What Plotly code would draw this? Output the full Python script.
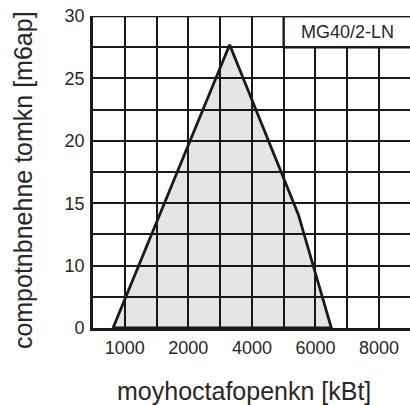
import plotly.graph_objects as go

# Working-range outline (burner output vs. combustion-chamber resistance)
power_kw = [-370, 3300, 5460, 6500]
pressure_mbar = [5, 27.7, 14.1, 5]

x_tick_vals = [0, 2000, 4000, 6000, 8000]
x_tick_text = ["1000", "2000", "4000", "6000", "8000"]
y_tick_vals = [5, 10, 15, 20, 25, 30]
y_tick_text = ["0", "10", "15", "20", "25", "30"]

model_label = "MG40/2-LN"
x_title = "moyhoctafopenkn [kBt]"
y_title = "compotnbnehne tomkn [m6ap]"

FONT = "Liberation Sans, Arial, sans-serif"
INK = "#1a1a1a"
TXT = "#2a2627"
GRID_W = 2.4

fig = go.Figure()
fig.add_trace(go.Scatter(
    x=power_kw + [power_kw[0]],
    y=pressure_mbar + [pressure_mbar[0]],
    mode="lines",
    fill="toself",
    fillcolor="rgba(0,0,0,0.10)",
    line=dict(color=INK, width=2.8),
    hoverinfo="skip",
    showlegend=False,
))

# label box in the top-right cell
fig.add_shape(type="rect", xref="x", yref="y", x0=5000, x1=9500, y0=27.5, y1=30,
              fillcolor="white", line=dict(color=INK, width=GRID_W), layer="above")
fig.add_annotation(x=7000, y=28.75, xref="x", yref="y", text=model_label,
                   showarrow=False, font=dict(family=FONT, size=18, color=TXT))
# top border
fig.add_shape(type="line", xref="paper", yref="y", x0=0, x1=1, y0=30, y1=30,
              line=dict(color=INK, width=GRID_W), layer="above")

fig.add_annotation(x=0.476, y=0, xref="paper", yref="paper", yshift=-63,
                   text=x_title, showarrow=False, yanchor="middle",
                   font=dict(family=FONT, size=25, color=TXT))
fig.add_annotation(x=-0.2208, y=0.474, xref="paper", yref="paper",
                   text=y_title, showarrow=False, textangle=-90,
                   xanchor="center", yanchor="middle",
                   font=dict(family=FONT, size=25, color=TXT))

fig.update_xaxes(range=[-1000, 8975], tickmode="array", tickvals=x_tick_vals,
                 ticktext=x_tick_text, showgrid=True, gridcolor=INK, gridwidth=GRID_W,
                 minor=dict(dtick=1000, tick0=0, showgrid=True, gridcolor=INK, gridwidth=GRID_W),
                 showline=True, linecolor=INK, linewidth=2.8, zeroline=False,
                 ticks="outside", ticklen=1, tickcolor="rgba(0,0,0,0)",
                 tickfont=dict(family=FONT, size=18, color=TXT), fixedrange=True)
fig.update_yaxes(range=[5, 30], tickmode="array", tickvals=y_tick_vals,
                 ticktext=y_tick_text, showgrid=True, gridcolor=INK, gridwidth=GRID_W,
                 minor=dict(dtick=2.5, tick0=0, showgrid=True, gridcolor=INK, gridwidth=GRID_W),
                 showline=True, linecolor=INK, linewidth=2.8, zeroline=False,
                 ticks="outside", ticklen=2, tickcolor="rgba(0,0,0,0)",
                 tickfont=dict(family=FONT, size=18, color=TXT), fixedrange=True)

fig.update_layout(width=410, height=405, margin=dict(l=93, r=0, t=16, b=77),
                  plot_bgcolor="white", paper_bgcolor="white", showlegend=False)

fig.write_html("out.html", config={"displayModeBar": False},
               post_script="document.body.style.margin='0';document.body.style.overflow='hidden';")
